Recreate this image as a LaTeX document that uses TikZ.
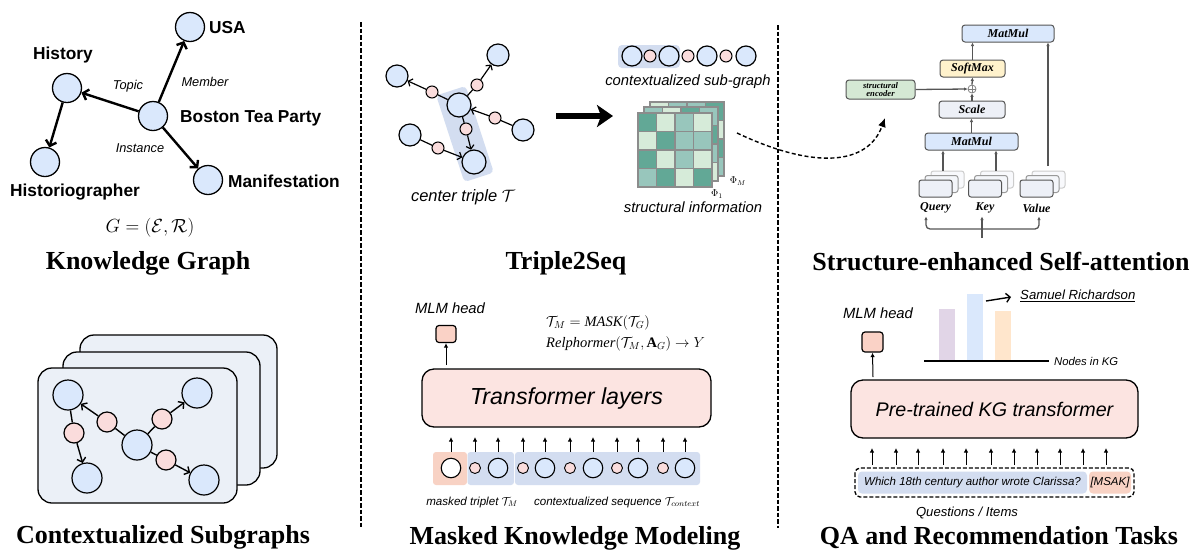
\RequirePackage{fix-cm}
\documentclass[tikz,border=0pt]{standalone}
\usepackage{fontspec}
\setmainfont{Liberation Serif}
\setsansfont{Liberation Sans}
\usetikzlibrary{arrows.meta,calc}
\definecolor{nblue}{HTML}{DAE8FC}
\definecolor{npink}{HTML}{FADCDC}
\definecolor{cardc}{HTML}{EBF0F7}
\definecolor{hlblue}{HTML}{D3DDF0}
\definecolor{boxpink}{HTML}{FCE4E1}
\definecolor{maskpink}{HTML}{F8D2C4}
\definecolor{headpink}{HTML}{FAD2C6}
\definecolor{md}{HTML}{62A896}
\definecolor{mm}{HTML}{98C6BC}
\definecolor{ml}{HTML}{D6EBD9}
\definecolor{gridg}{HTML}{8C8C8C}
\definecolor{dg}{HTML}{555555}
\definecolor{smy}{HTML}{FFF2CC}
\definecolor{scg}{HTML}{EDF0F7}
\definecolor{seg}{HTML}{D5E8D4}
\definecolor{barp}{HTML}{E1D5E7}
\definecolor{barb}{HTML}{DAE8FC}
\definecolor{baro}{HTML}{FFE6CC}
\newcommand\setfs[1]{\fontsize{#1}{#1}\selectfont}
\newcommand\drawmat[3]{%
  \foreach \cl [count=\i from 0] in {#3} {%
    \pgfmathtruncatemacro\matr{div(\i,4)}%
    \pgfmathtruncatemacro\matc{mod(\i,4)}%
    \filldraw[fill=\cl,draw=gridg,line width=1.2pt] ({#1+\matc*18.5},{#2+\matr*18.5}) rectangle ++(18.5,18.5);
  }%
}
\tikzset{
  kgn/.style={circle,draw,line width=1.3pt,fill=nblue,minimum size=29pt,inner sep=0pt},
  kglab/.style={font=\sffamily\bfseries\setfs{17.3},inner sep=0pt},
  elab/.style={font=\sffamily\itshape\setfs{12.8},inner sep=0pt},
  ttl/.style={font=\bfseries\setfs{26},inner sep=0pt},
  capt/.style={font=\sffamily\itshape\setfs{14.8},inner sep=0pt},
  kgar/.style={line width=2.4pt,-{Straight Barb[length=5pt,width=11pt]}},
  card/.style={draw,line width=1.3pt,fill=cardc,rounded corners=14pt},
  sgn/.style={circle,draw,line width=1.2pt,fill=nblue,minimum size=30pt,inner sep=0pt},
  sgp/.style={circle,draw,line width=1.2pt,fill=npink,minimum size=20pt,inner sep=0pt},
  sgl/.style={line width=1.4pt},
  sgar/.style={line width=1.4pt,-{Straight Barb[length=4pt,width=9pt]}},
  tgn/.style={circle,draw,line width=1.2pt,fill=nblue,minimum size=22pt,inner sep=0pt},
  tgp/.style={circle,draw,line width=1pt,fill=npink,minimum size=12pt,inner sep=0pt},
  tgl/.style={line width=1.2pt},
  tgar/.style={line width=1.2pt,-{Straight Barb[length=3.5pt,width=8pt]}},
  tokb/.style={circle,draw,line width=1.1pt,fill=nblue,minimum size=19.5pt,inner sep=0pt},
  tokw/.style={circle,draw,line width=1.1pt,fill=white,minimum size=19.5pt,inner sep=0pt},
  tokp/.style={circle,draw,line width=0.9pt,fill=npink,minimum size=11pt,inner sep=0pt},
  upar/.style={line width=1pt,-{Latex[length=4.5pt,width=4.5pt]}},
  divl/.style={line width=2pt,dash pattern=on 4.5pt off 2pt},
  bigbox/.style={draw,line width=1.3pt,fill=boxpink,rounded corners=12pt,inner sep=0pt},
  headsq/.style={draw,line width=1.2pt,fill=headpink,rounded corners=3pt,inner sep=0pt},
  abox/.style={draw=dg,line width=1pt,rounded corners=3pt,inner sep=0pt,minimum height=17pt,font=\bfseries\itshape\setfs{12}},
  gar/.style={draw=dg,line width=1.3pt,-{Latex[length=3.5pt,width=3.5pt]}},
  qkv/.style={draw=dg,line width=1pt,fill=scg,rounded corners=2.5pt,minimum width=33pt,minimum height=17pt,inner sep=0pt},
  qkv1/.style={draw=gray!80,line width=1pt,fill=scg!60,rounded corners=2.5pt,minimum width=33pt,minimum height=17pt,inner sep=0pt},
  qkv2/.style={draw=gray!40,line width=1pt,fill=scg!40,rounded corners=2.5pt,minimum width=33pt,minimum height=17pt,inner sep=0pt},
  qkvlab/.style={font=\bfseries\itshape\setfs{12},inner sep=0pt},
}
\begin{document}
\begin{tikzpicture}[x=1pt,y=-1pt]
\useasboundingbox[fill=white] (0,0) rectangle (1197,550);
% ---------------- dividers
\coordinate (d1a) at (361,22); \coordinate (d1b) at (361,528);
\coordinate (d2a) at (778,25); \coordinate (d2b) at (778,528);
\draw[divl] (d1a) -- (d1b);
\draw[divl] (d2a) -- (d2b);

% ---------------- Knowledge graph
\node[kgn] (usa) at (190,27) {};
\node[kgn] (hist) at (67,88) {};
\node[kgn] (btp) at (153,116) {};
\node[kgn] (hgr) at (45,162) {};
\node[kgn] (man) at (208,180) {};
\node[kglab,anchor=west] (usat) at (209,28) {USA};
\node[kglab] (histt) at (63,55) {History};
\node[kglab,anchor=west] (btpt) at (180,118) {Boston Tea Party};
\node[kglab] (hgrt) at (75,192) {Historiographer};
\node[kglab,anchor=west] (mant) at (228,181) {Manifestation};
\draw[kgar] (btp) -- (hist);
\draw[kgar] (btp) -- (usa);
\draw[kgar] (btp) -- (man);
\draw[kgar] (hist) -- (hgr);
\node[elab] (topic) at (128,86) {Topic};
\node[elab] (member) at (205,82) {Member};
\node[elab] (inst) at (140,148) {Instance};
\node[inner sep=0pt,font=\setfs{19}] (gform) at (150,228) {$G = (\mathcal{E},\mathcal{R})$};
\node[ttl] (t1) at (148,263) {Knowledge Graph};

% ---------------- Contextualized subgraphs
\draw[card] (80,335) rectangle (277,468);
\draw[card] (63,352) rectangle (260,485);
\draw[card] (38,368) rectangle (237,503);
\node[sgn] (s1) at (68,395) {};
\node[sgn] (s2) at (87,478) {};
\node[sgn] (s0) at (137,445) {};
\node[sgn] (s3) at (197,393) {};
\node[sgn] (s4) at (204,480) {};
\node[sgp] (q1) at (74,433) {};
\node[sgp] (q2) at (107,422) {};
\node[sgp] (q3) at (162,419) {};
\node[sgp] (q4) at (166,460) {};
\draw[sgl] (s1) -- (q1); \draw[sgar] (q1) -- (s2);
\draw[sgl] (s0) -- (q2); \draw[sgar] (q2) -- (s1);
\draw[sgl] (s0) -- (q3); \draw[sgar] (q3) -- (s3);
\draw[sgl] (s0) -- (q4); \draw[sgar] (q4) -- (s4);
\node[ttl] (t2) at (163,537) {Contextualized Subgraphs};

% ---------------- Triple2Seq
\node[fill=hlblue,rounded corners=4pt,rotate=18,minimum width=31pt,minimum height=91pt,inner sep=0pt] (hl) at (465,134) {};
\node[tgn] (lt) at (397,76) {};
\node[tgn] (tr) at (498,55) {};
\node[tgn,minimum size=24pt] (cc) at (459,105) {};
\node[tgn] (rt) at (523,130) {};
\node[tgn] (bl) at (410,135) {};
\node[tgn,minimum size=24pt] (bt) at (474,162) {};
\node[tgp] (p1) at (432,92) {};
\node[tgp] (p2) at (477,85) {};
\node[tgp] (p3) at (495,118) {};
\node[tgp] (p4) at (466,129) {};
\node[tgp] (p5) at (438,148) {};
\draw[tgl] (cc) -- (p1); \draw[tgar] (p1) -- (lt);
\draw[tgl] (cc) -- (p2); \draw[tgar] (p2) -- (tr);
\draw[tgl] (rt) -- (p3); \draw[tgar] (p3) -- (cc);
\draw[tgl] (cc) -- (p4); \draw[tgar] (p4) -- (bt);
\draw[tgl] (bl) -- (p5); \draw[tgar] (p5) -- (bt);
\node[capt,font=\sffamily\itshape\setfs{16.5}] (ctl) at (463,197) {center triple $\mathcal{T}$};
% big arrow
\coordinate (ba) at (556,116); \coordinate (bb) at (613,116);
\draw[line width=6.5pt,-{Stealth[length=16pt,width=22pt,inset=4pt]}] (ba) -- (bb);
% sequence
\node[fill=hlblue,rounded corners=4pt,minimum width=62pt,minimum height=23pt,inner sep=0pt] (seqhl) at (649,56.5) {};
\node[tgn,minimum size=20pt] (e1) at (632,56) {};
\node[tgp] (r1) at (650,56) {};
\node[tgn,minimum size=20pt] (e2) at (669,56) {};
\node[tgp] (r2) at (688,56) {};
\node[tgn,minimum size=20pt] (e3) at (707,56) {};
\node[tgp] (r3) at (726,56) {};
\node[tgn,minimum size=20pt] (e4) at (746,56) {};
\node[capt] (csg) at (688,82) {contextualized sub-graph};
% matrices
\drawmat{650}{102}{ml,mm,mm,md, mm,ml,md,ml, ml,mm,ml,md, md,ml,mm,mm}
\drawmat{644}{107}{mm,ml,md,mm, ml,mm,ml,md, mm,ml,md,mm, ml,md,mm,ml}
\drawmat{638}{113}{md,ml,mm,ml, ml,md,mm,mm, md,ml,mm,ml, mm,md,ml,md}
\node[inner sep=0pt,font=\setfs{10}] (phim) at (738,181) {$\Phi_M$};
\node[inner sep=0pt,font=\setfs{10}] (phi1) at (717,194) {$\Phi_1$};
\node[capt] (sinf) at (693,207) {structural information};
\node[ttl] (t3) at (566,263) {Triple2Seq};
% dashed curve
\coordinate (dc1) at (737,133);
\coordinate (dc2) at (885,118);
\draw[line width=1.4pt,dash pattern=on 4pt off 2.5pt,-{Latex[length=9pt,width=8pt]}] (dc1) .. controls (815,170) and (868,165) .. (dc2);

% ---------------- Masked knowledge modeling
\node[font=\sffamily\itshape\setfs{14.8},inner sep=0pt] (mlm4) at (450,308) {MLM head};
\node[headsq,minimum width=20pt,minimum height=17pt] (sq4) at (446,334) {};
\node[bigbox,minimum width=289pt,minimum height=58pt,font=\sffamily\itshape\setfs{23.2}] (tl) at (566.5,398) {Transformer layers};
\coordinate (a4) at (446,365);
\draw[upar] (a4) -- (sq4.south);
\node[anchor=west,inner sep=0pt,font=\setfs{14.5}] (f1) at (546,323) {$\mathcal{T}_M = \mathit{MASK}(\mathcal{T}_G)$};
\node[anchor=west,inner sep=0pt,font=\setfs{14.5}] (f2) at (546,344) {$\mathit{Relphormer}(\mathcal{T}_M,\mathbf{A}_G)\rightarrow Y$};
\fill[maskpink,rounded corners=3pt] (433,452) rectangle (467,485);
\fill[hlblue,rounded corners=3pt] (467.5,452) rectangle (514,485);
\fill[hlblue,rounded corners=3pt] (515,452) rectangle (700,485);
\foreach \x/\k [count=\i] in {451/w,475/p,498/b,523/p,545/b,570/p,593/b,617/p,638/b,663/p,685/b}{
  \node[tok\k] (tk\i) at (\x,468) {};
  \draw[upar] ($(tk\i)+(0,-16)$) -- ($(tk\i)+(0,-31)$);
}
\node[font=\sffamily\itshape\setfs{11.6},inner sep=0pt] (mtl) at (472,502) {masked triplet $\mathcal{T}_M$};
\node[font=\sffamily\itshape\setfs{11.6},inner sep=0pt] (csl) at (617,502) {contextualized sequence $\mathcal{T}_{context}$};
\node[ttl] (t4) at (575,538) {Masked Knowledge Modeling};

% ---------------- Structure-enhanced self-attention
\node[abox,fill=nblue,minimum width=92pt] (mm1) at (1008,33.5) {MatMul};
\node[abox,fill=smy,minimum width=65pt] (sm) at (972.5,68.5) {SoftMax};
\node[circle,draw=gray,line width=0.8pt,fill=white,minimum size=8pt,inner sep=0pt] (pl) at (972,89) {};
\draw[gray,line width=0.7pt] (pl.north) -- (pl.south) (pl.west) -- (pl.east);
\node[abox,fill=seg,minimum width=69pt,minimum height=19pt,align=center,font=\bfseries\itshape\setfs{8.6}] (se) at (880.5,89.5) {structural\\[-1pt]encoder};
\node[abox,fill=scg,minimum width=66pt] (sc) at (972,109.5) {Scale};
\node[abox,fill=nblue,minimum width=93pt] (mm2) at (971.5,141.5) {MatMul};
\draw[gar] (se.east) -- (pl.west);
\draw[gar] (sc.north) -- (pl.south);
\draw[gar] (pl.north) -- (sm.south);
\draw[gar] (sm.north) -- (sm.north |- mm1.south);
\draw[gar] (mm2.north) -- (mm2.north |- sc.south);
\foreach \x/\nm/\lab in {935.5/q/Query,985/k/Key,1036.5/v/Value}{
  \node[qkv2] (\nm c) at (\x+12,179.5) {};
  \node[qkv1] (\nm b) at (\x+6,184) {};
  \node[qkv] (\nm a) at (\x,188.5) {};
  \node[qkvlab] (\nm l) at (\x,208) {\lab};
}
\coordinate (qs) at (943,171);
\coordinate (ks) at (996,171);
\coordinate (vs) at (1048,166);
\draw[gar] (qs) -- (qs |- mm2.south);
\draw[gar] (ks) -- (ks |- mm2.south);
\draw[gar] (vs) -- (vs |- mm1.south);
\coordinate (bq) at (926,216.5);
\coordinate (bv) at (1039,216.5);
\coordinate (bs) at (982,238);
\draw[draw=dg,line width=1.3pt,rounded corners=4pt,{Latex[length=3.5pt,width=3.5pt]}-{Latex[length=3.5pt,width=3.5pt]}] (bq) -- (926,229) -- (1039,229) -- (bv);
\draw[gar] (bs) -- (bs |- bq);
\node[ttl] (t5) at (1001,261) {Structure-enhanced Self-attention};

% ---------------- QA
\node[font=\sffamily\itshape\setfs{14.8},inner sep=0pt] (mlm6) at (878,313) {MLM head};
\node[headsq,minimum width=21pt,minimum height=20pt] (sq6) at (872.5,342) {};
\coordinate (a6) at (873,377);
\draw[upar] (a6) -- (sq6.south);
\fill[barp] (939,309) rectangle (955,360);
\fill[barb] (967,294) rectangle (983,360);
\fill[baro] (995,311) rectangle (1011,360);
\coordinate (bl1) at (924,361); \coordinate (bl2) at (1049,361);
\draw[line width=2pt] (bl1) -- (bl2);
\node[anchor=west,font=\sffamily\itshape\setfs{11.3},inner sep=0pt] (nkg) at (1054,361) {Nodes in KG};
\node[anchor=west,font=\sffamily\itshape\setfs{13.2},inner sep=0pt] (samr) at (1020,296) {\underline{Samuel Richardson}};
\coordinate (sa1) at (986,301);
\coordinate (sa2) at (1011,297);
\draw[line width=1.4pt,-{Straight Barb[length=4pt,width=9pt]}] (sa1) -- (sa2);
\node[bigbox,minimum width=287pt,minimum height=58pt,font=\sffamily\itshape\setfs{19.7}] (pt) at (994.5,409) {Pre-trained KG transformer};
\foreach \x [count=\i] in {872,896,918,943,966,991,1014,1037,1060,1083,1106}{
  \coordinate (qa\i) at (\x,465);
  \draw[upar] (qa\i) -- ($(qa\i)+(0,-17)$);
}
\draw[line width=1.3pt,dash pattern=on 4pt off 2pt,rounded corners=5pt] (855,468) rectangle (1134,497);
\node[fill=hlblue,rounded corners=4pt,minimum width=229pt,minimum height=22pt,inner sep=0pt,font=\sffamily\itshape\setfs{11.5}] (qtxt) at (972.5,482.5) {Which 18th century author wrote Clarissa?};
\node[fill=maskpink,rounded corners=4pt,minimum width=42pt,minimum height=22pt,inner sep=0pt,font=\sffamily\itshape\setfs{11.5}] (msk) at (1110,482.5) {[MSAK]};
\node[font=\sffamily\itshape\setfs{13.1},inner sep=0pt] (qi) at (967,513) {Questions / Items};
\node[ttl] (t6) at (999,538) {QA and Recommendation Tasks};
\end{tikzpicture}
\end{document}
